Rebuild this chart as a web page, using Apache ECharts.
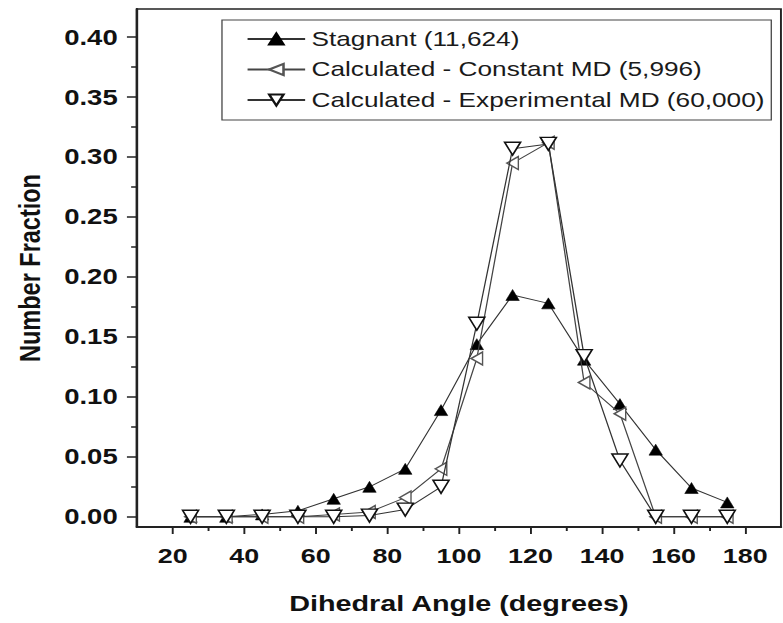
<!DOCTYPE html>
<html><head><meta charset="utf-8">
<script src="https://cdn.jsdelivr.net/npm/echarts@6/dist/echarts.min.js"></script>
<style>
html,body{margin:0;padding:0;background:#fff;overflow:hidden}
#wrap{width:783px;height:623px;overflow:hidden;background:#fff;position:relative}
#chart{width:612px;height:623px;transform:scaleX(1.2794);transform-origin:0 0}
</style></head><body><div id="wrap"><div id="chart"></div></div>
<script>
// Dihedral angle bins (degrees)
const angles = [25, 35, 45, 55, 65, 75, 85, 95, 105, 115, 125, 135, 145, 155, 165, 175];
// Number fraction per bin
const stagnant     = [0.000, 0.000, 0.002, 0.005, 0.015, 0.025, 0.040, 0.089, 0.144, 0.185, 0.178, 0.131, 0.094, 0.056, 0.024, 0.012];
const constantMD   = [0.000, 0.000, 0.000, 0.000, 0.002, 0.004, 0.016, 0.040, 0.132, 0.295, 0.312, 0.112, 0.086, 0.000, 0.000, 0.000];
const experimentMD = [0.000, 0.000, 0.000, 0.000, 0.000, 0.001, 0.006, 0.025, 0.161, 0.307, 0.311, 0.134, 0.047, 0.000, 0.000, 0.000];
const seriesNames = ['Stagnant (11,624)', 'Calculated - Constant MD (5,996)', 'Calculated - Experimental MD (60,000)'];
// Tick values
const xMajor = [20, 40, 60, 80, 100, 120, 140, 160, 180];
const xMinor = [30, 50, 70, 90, 110, 130, 150, 170];
const yMajor = [0, 0.05, 0.10, 0.15, 0.20, 0.25, 0.30, 0.35, 0.40];
const yMinor = [0.025, 0.075, 0.125, 0.175, 0.225, 0.275, 0.325, 0.375];

const pair = arr => angles.map((a, i) => [a, arr[i]]);
const FONT = "'Liberation Sans', Arial, sans-serif";
const X_MIN = 10, X_MAX = 190, Y_MIN = -0.0085, Y_MAX = 0.4235;

const chart = echarts.init(document.getElementById('chart'), null, {renderer: 'svg'});
const baseX = {type: 'value', min: X_MIN, max: X_MAX, gridIndex: 0, position: 'bottom', splitLine: {show: false}};
const baseY = {type: 'value', min: Y_MIN, max: Y_MAX, gridIndex: 0, position: 'left', splitLine: {show: false}};
chart.setOption({
  animation: false,
  grid: {left: 107, right: 1.6, top: 9, bottom: 96, show: true, borderColor: '#222', borderWidth: 1.5},
  legend: {
    left: 173.5, top: 20, orient: 'vertical', data: seriesNames,
    itemWidth: 45, itemHeight: 14, itemGap: 8.5, padding: [8, 5, 9, 19],
    borderColor: '#444', borderWidth: 1,
    textStyle: {fontFamily: FONT, fontSize: 20.5, color: '#1a1a1a', lineHeight: 22},
    selectedMode: false
  },
  xAxis: [
    Object.assign({}, baseX, {
      name: 'Dihedral Angle (degrees)', nameLocation: 'middle', nameGap: 65,
      nameTextStyle: {fontFamily: FONT, fontSize: 22.5, fontWeight: 'bold', color: '#111', lineHeight: 23},
      axisLine: {show: true, onZero: false, lineStyle: {color: '#222', width: 2}},
      axisTick: {show: true, customValues: xMajor, length: 7, lineStyle: {color: '#222', width: 1.5}},
      axisLabel: {show: true, customValues: xMajor, margin: 18, fontFamily: FONT, fontSize: 21, fontWeight: 'bold', color: '#111', lineHeight: 21}
    }),
    Object.assign({}, baseX, {
      axisLine: {show: false, onZero: false},
      axisTick: {show: true, customValues: xMinor, length: 4, lineStyle: {color: '#222', width: 1.5}},
      axisLabel: {show: false}
    })
  ],
  yAxis: [
    Object.assign({}, baseY, {
      name: 'Number Fraction', nameLocation: 'middle', nameGap: 72,
      nameTextStyle: {fontFamily: FONT, fontSize: 23.5, fontWeight: 'bold', color: '#111', lineHeight: 23},
      axisLine: {show: true, onZero: false, lineStyle: {color: '#222', width: 2}},
      axisTick: {show: true, customValues: yMajor, length: 7.8, lineStyle: {color: '#222', width: 1.5}},
      axisLabel: {show: true, customValues: yMajor, margin: 15, fontFamily: FONT, fontSize: 21.5, fontWeight: 'bold', color: '#111',
        formatter: v => v.toFixed(2)}
    }),
    Object.assign({}, baseY, {
      axisLine: {show: false, onZero: false},
      axisTick: {show: true, customValues: yMinor, length: 4.5, lineStyle: {color: '#222', width: 1.5}},
      axisLabel: {show: false}
    })
  ],
  series: [
    {name: seriesNames[0], type: 'line', data: pair(stagnant), symbol: 'triangle', symbolSize: [10.5, 11], z: 2,
      lineStyle: {color: '#333', width: 1}, itemStyle: {color: '#000', borderColor: '#000', borderWidth: 0.5}},
    {name: seriesNames[1], type: 'line', data: pair(constantMD), symbol: 'path://M0,5 L10,0 L10,10 Z', symbolSize: [9, 13], z: 3,
      lineStyle: {color: '#444', width: 1}, itemStyle: {color: '#fff', borderColor: '#555', borderWidth: 1.3}},
    {name: seriesNames[2], type: 'line', data: pair(experimentMD), symbol: 'path://M0,0 L10,0 L5,10 Z', symbolSize: [12.5, 13], z: 4,
      lineStyle: {color: '#333', width: 1}, itemStyle: {color: '#fff', borderColor: '#111', borderWidth: 1.4}}
  ]
});
</script></body></html>
